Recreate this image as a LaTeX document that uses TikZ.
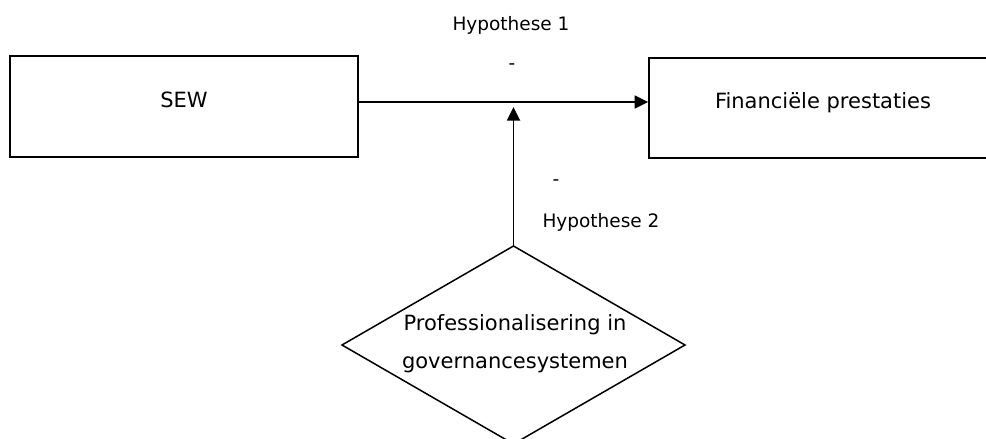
\documentclass[tikz,border=0pt]{standalone}
\usepackage{fontspec}
\setmainfont{DejaVu Sans}
\usetikzlibrary{arrows.meta,shapes.geometric}
\begin{document}
\begin{tikzpicture}[x=1pt,y=-1pt,
  boxstyle/.style={draw,line width=1.8pt,rectangle,inner sep=0pt},
  boxtext/.style={font=\fontsize{21}{25}\selectfont,inner sep=0pt},
  smalltext/.style={font=\fontsize{18.5}{22}\selectfont,inner sep=0pt},
  conn/.style={line width=1.8pt,-{Triangle[length=13.5pt,width=13pt]}}]
\path[use as bounding box] (0,0) rectangle (986,439);
\clip (0,0) rectangle (986,439);
\node[boxstyle,minimum width=348.5pt,minimum height=101pt] (sew) at (184,106.5) {};
\node[boxtext] (sewt) at (184,100) {SEW};
\node[boxstyle,minimum width=348pt,minimum height=100pt] (fin) at (823,108) {};
\node[boxtext] (fint) at (823,103) {Financiële prestaties};
\node[draw,diamond,line width=1.5pt,inner sep=0pt,outer sep=0pt,minimum width=343pt,minimum height=198pt] (prof) at (513.5,345) {};
\node[boxtext,align=center,font=\fontsize{21}{38}\selectfont] (proft) at (515,344) {Professionalisering in\\governancesystemen};
\coordinate (meet) at (513.5,107);
\draw[conn] (sew.east |- 0,102) -- (fin.west |- 0,102);
\draw[conn] (prof.north) -- (meet);
\node[smalltext] (h1) at (511,25) {Hypothese 1};
\node[smalltext] (m1) at (512,67) {-};
\node[smalltext] (m2) at (556,183) {-};
\node[smalltext] (h2) at (601,222) {Hypothese 2};
\end{tikzpicture}
\end{document}
